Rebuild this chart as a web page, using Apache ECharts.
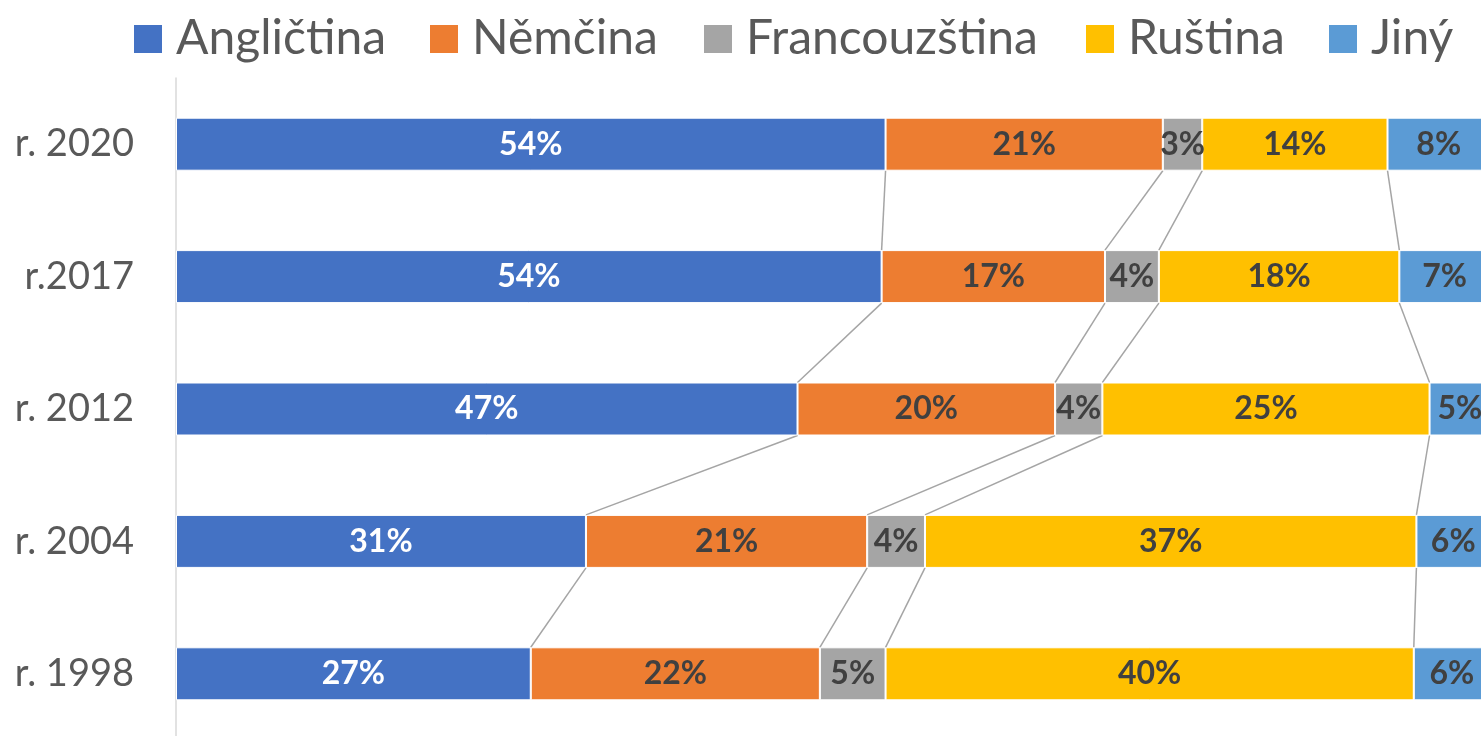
<!DOCTYPE html>
<html>
<head>
<meta charset="utf-8">
<script src="https://cdn.jsdelivr.net/npm/echarts@6/dist/echarts.min.js"></script>
<style>
html,body{margin:0;padding:0;background:#fff;overflow:hidden;}
#chart{width:1481px;height:736px;}
</style>
</head>
<body>
<div id="chart"></div>
<script>
// Categories (bottom to top)
var categories = ['r. 1998', 'r. 2004', 'r. 2012', 'r.2017', 'r. 2020'];
var seriesNames = ['Angličtina', 'Němčina', 'Francouzština', 'Ruština', 'Jiný'];
// Shares in percent, one value per category
var anglictina    = [27.0, 31.2, 47.3, 53.7, 54.0];
var nemcina       = [22.0, 21.4, 19.6, 17.0, 21.1];
var francouzstina = [5.0, 4.4, 3.6, 4.1, 3.0];
var rustina       = [40.2, 37.4, 24.9, 18.3, 14.1];
var jiny          = [5.8, 5.6, 4.6, 6.9, 7.8];

var allValues = [anglictina, nemcina, francouzstina, rustina, jiny];
var colors = ['#4472C4', '#ED7D31', '#A5A5A5', '#FFC000', '#5B9BD5'];
var labelColors = ['#FFFFFF', '#404040', '#404040', '#404040', '#404040'];
var FONT = 'Lato, "Open Sans", sans-serif';
var BAR_W = 53;

// connector lines data built from cumulative sums
var connectors = [];
for (var i = 0; i < categories.length - 1; i++) {
  var cumA = 0, cumB = 0;
  for (var k = 0; k < allValues.length - 1; k++) {
    cumA += allValues[k][i];
    cumB += allValues[k][i + 1];
    connectors.push([cumA, i, cumB, i + 1]);
  }
}

var series = seriesNames.map(function (name, idx) {
  return {
    name: name,
    type: 'bar',
    stack: 'total',
    barWidth: BAR_W,
    clip: false,
    data: allValues[idx],
    itemStyle: { color: colors[idx], borderColor: '#FFFFFF', borderWidth: 1 },
    label: {
      show: true,
      position: 'inside',
      formatter: function (p) { return Math.round(p.value) + '%'; },
      color: labelColors[idx],
      fontFamily: FONT,
      fontWeight: 'bold',
      fontSize: 32
    },
    emphasis: { disabled: true }
  };
});

series.push({
  type: 'custom',
  silent: true,
  clip: false,
  encode: { x: [0, 2], y: [1, 3] },
  data: connectors,
  z: 1,
  renderItem: function (params, api) {
    var p1 = api.coord([api.value(0), api.value(1)]);
    var p2 = api.coord([api.value(2), api.value(3)]);
    return {
      type: 'line',
      shape: { x1: p1[0], y1: p1[1] - BAR_W / 2, x2: p2[0], y2: p2[1] + BAR_W / 2 },
      style: { stroke: '#A5A5A5', lineWidth: 1.5 }
    };
  }
});

var legendLefts = [132, 428, 702, 1084, 1327];
var legends = seriesNames.map(function (name, idx) {
  return {
    data: [name],
    left: legendLefts[idx],
    top: 15,
    padding: 0,
    icon: 'rect',
    itemWidth: 30,
    itemHeight: 30,
    selectedMode: false,
    textStyle: { fontFamily: FONT, fontSize: 48, color: '#595959', padding: [0, 0, 0, 8] }
  };
});

var chart = echarts.init(document.getElementById('chart'));
chart.setOption({
  animation: false,
  color: colors,
  legend: legends,
  grid: { left: 176, width: 1314, top: 78, height: 662, containLabel: false, outerBoundsMode: 'none' },
  xAxis: { type: 'value', min: 0, max: 100, show: false },
  yAxis: {
    type: 'category',
    data: categories,
    axisLine: { show: true, lineStyle: { color: '#D9D9D9', width: 1.5 } },
    axisTick: { show: false },
    axisLabel: { fontFamily: FONT, fontSize: 38, color: '#595959', margin: 42 },
    splitLine: { show: false }
  },
  series: series
});
</script>
</body>
</html>
